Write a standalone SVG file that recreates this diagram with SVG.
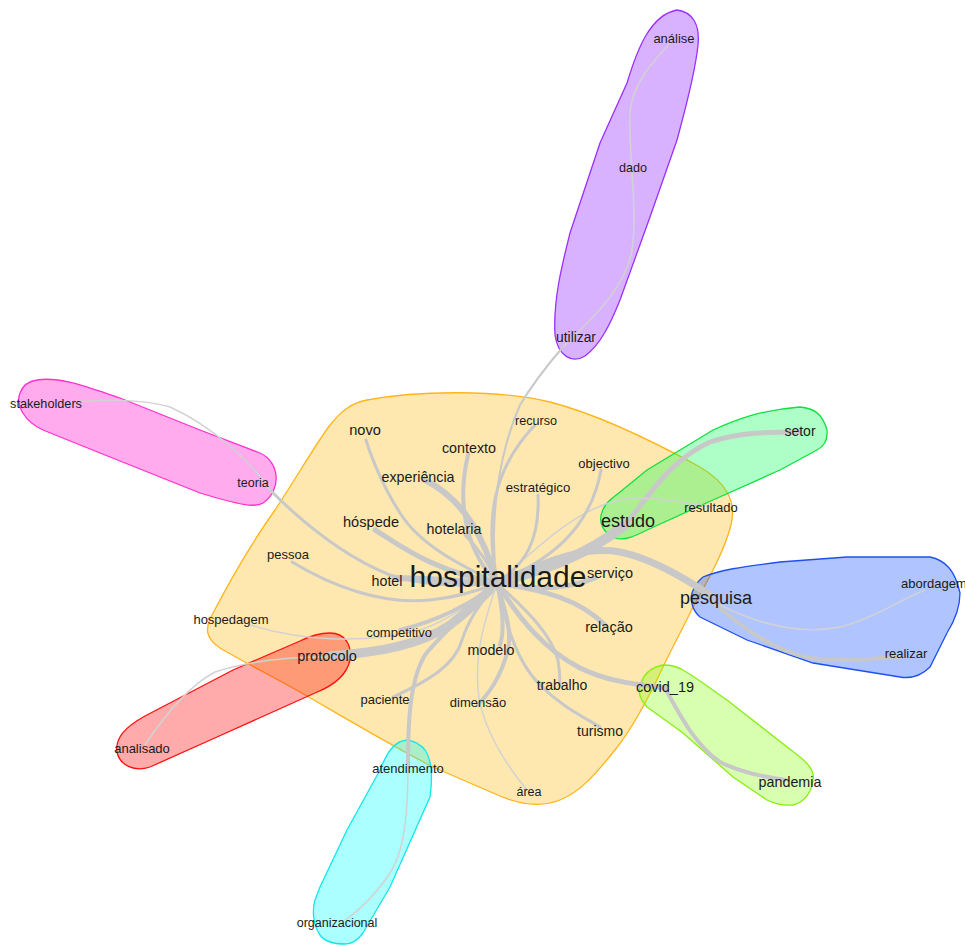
<svg xmlns="http://www.w3.org/2000/svg" width="965" height="946" viewBox="0 0 965 946">
<style>
text{font-family:"Liberation Sans",Arial,sans-serif;fill:#1a1a1a;text-anchor:middle}
.blob{stroke-width:1.3}
.e{fill:none;stroke:#c8c8c8;stroke-linecap:round}
.t{stroke:#d2d2d2;stroke-width:1.5}
</style>
<rect width="965" height="946" fill="#ffffff"/>
<g id="clusters">
<path id="c-orange" class="blob" fill="#fee8b0" stroke="#ffb51a" d="M367,400 C420,390 500,390 550,402 C600,415 660,445 700,467 C725,482 737,500 731,525 C724,552 708,580 693,607 C683,628 672,648 663,667 C650,695 635,725 615,750 C595,775 580,792 560,800 C545,806 525,808 493,793 L433,767 C390,745 340,715 300,692 C270,675 240,660 220,648 C205,638 205,628 212,615 C225,590 250,545 275,510 C295,480 315,445 330,425 C342,410 352,403 367,400 Z"/>
<path id="c-purple" class="blob" fill="rgb(128,0,255)" fill-opacity="0.3" stroke="#9a30ff" d="M677,10 C693,12 700,25 698,45 C695,75 685,110 677,140 L650,217 L620,300 C610,325 600,345 585,356 C572,364 558,356 555,335 C553,300 562,265 570,233 L600,143 L627,83 C637,50 650,15 677,10 Z"/>
<path id="c-pink" class="blob" fill="rgb(255,0,200)" fill-opacity="0.33" stroke="#ff30cc" d="M37,380 C60,376 90,388 120,398 L200,430 L260,453 C280,462 282,490 263,503 C255,508 240,505 200,493 L100,453 L43,430 C25,422 15,405 20,393 C23,385 30,381 37,380 Z"/>
<path id="c-green" class="blob" fill="rgb(0,255,80)" fill-opacity="0.32" stroke="#10e040" d="M800,407 C812,408 822,412 827,430 C828,440 825,446 817,450 L780,470 L713,500 L647,530 C635,536 625,541 615,538 C603,533 598,522 602,512 C605,503 610,500 620,492 L647,470 L713,430 C735,420 760,410 800,407 Z"/>
<path id="c-blue" class="blob" fill="rgb(0,64,255)" fill-opacity="0.31" stroke="#1e50f0" d="M703,577 C720,570 740,567 780,562 L847,557 L930,557 C945,560 955,570 960,593 C960,610 952,625 947,633 L930,667 C922,675 912,679 900,677 L813,663 L747,640 L700,617 C692,610 690,600 692,593 C694,587 698,581 703,577 Z"/>
<path id="c-lime" class="blob" fill="rgb(128,255,0)" fill-opacity="0.31" stroke="#88ee11" d="M663,665 C672,665 678,667 683,670 C700,680 712,690 727,700 L800,757 C810,765 815,772 813,780 C812,790 806,802 793,805 C782,806 775,804 767,800 L733,777 L683,733 L647,707 C640,700 638,692 640,687 C642,677 648,668 663,665 Z"/>
<path id="c-red" class="blob" fill="rgb(255,0,0)" fill-opacity="0.33" stroke="#ff1010" d="M330,633 C345,633 352,645 350,660 C347,675 335,685 315,693 L217,737 L150,767 C135,772 120,766 117,752 C115,738 125,727 145,716 L233,670 L300,641 C310,636 320,633 330,633 Z"/>
<path id="c-cyan" class="blob" fill="rgb(0,255,255)" fill-opacity="0.33" stroke="#10e8e8" d="M407,740 C415,741 420,744 425,750 C432,760 433,775 430,797 L390,887 L363,933 C358,940 352,944 345,944 C333,944 325,942 320,935 C313,925 312,910 315,900 L320,887 L347,830 L380,770 C386,755 393,741 407,740 Z"/>
</g>
<g id="connectors">
<path class="e" stroke-width="3" d="M270,490 C300,520 340,555 390,575 C430,588 470,586 497,583"/>
<path class="e t" d="M270,490 C250,460 210,425 170,407 C140,398 100,400 70,402"/>
<path class="e" stroke-width="5" d="M375,530 C400,545 430,570 497,583"/>
<path class="e" stroke-width="6" d="M395,578 C430,578 470,583 497,583"/>
<path class="e" stroke-width="3" d="M292,562 C330,585 380,605 430,600 C460,597 480,590 497,583"/>
<path class="e t" d="M250,625 C300,640 360,645 420,630 C450,620 475,600 497,583"/>
<path class="e" stroke-width="9" d="M330,656 C380,652 420,645 450,625 C470,610 485,595 497,583"/>
<path class="e" stroke-width="4" d="M400,630 C440,620 470,605 497,583"/>
<path class="e t" d="M330,657 C290,657 250,660 215,672 C190,685 165,715 145,745"/>
<path class="e" stroke-width="3" d="M393,697 C430,680 455,665 462,640 C470,615 485,598 497,583"/>
<path class="e" stroke-width="4" d="M497,583 C470,610 445,630 425,655 C410,680 408,720 408,765"/>
<path class="e t" d="M408,765 C408,810 405,850 390,873 C375,895 360,910 345,920"/>
<path class="e t" d="M497,583 C485,620 475,650 478,690 C482,730 510,770 527,790"/>
<path class="e" stroke-width="4" d="M497,583 C505,610 512,630 508,650 C500,680 487,695 478,705"/>
<path class="e" stroke-width="4" d="M497,583 C503,610 505,630 500,645"/>
<path class="e" stroke-width="3" d="M497,583 C520,605 550,630 558,660 C560,672 560,680 560,685"/>
<path class="e" stroke-width="3" d="M497,583 C505,620 515,660 540,685 C560,705 580,715 600,727"/>
<path class="e" stroke-width="5" d="M497,583 C520,620 545,650 580,668 C605,680 625,683 665,688"/>
<path class="e" stroke-width="4" d="M665,688 C680,715 695,745 720,762 C740,772 760,776 785,780"/>
<path class="e" stroke-width="5" d="M497,583 C545,590 580,600 605,625"/>
<path class="e" stroke-width="5" d="M497,583 C540,592 570,588 595,578"/>
<path class="e" stroke-width="7" d="M497,583 C540,565 580,545 620,552 C650,558 680,575 710,595"/>
<path class="e" stroke-width="4" d="M710,600 C740,625 770,650 810,658 C840,662 870,659 900,657"/>
<path class="e t" d="M720,605 C760,625 800,635 840,627 C870,620 900,600 925,590"/>
<path class="e" stroke-width="10" d="M497,583 C540,570 580,560 625,525"/>
<path class="e" stroke-width="5" d="M625,525 C650,495 670,460 710,442 C740,432 770,432 800,432"/>
<path class="e t" d="M497,583 C540,545 575,510 620,500 C650,495 680,502 711,507"/>
<path class="e" stroke-width="3" d="M497,583 C550,560 590,530 601,470"/>
<path class="e" stroke-width="3" d="M497,583 C525,565 540,540 538,495"/>
<path class="e" stroke-width="3" d="M497,583 C485,520 492,470 535,425"/>
<path class="e" stroke-width="2" d="M497,583 C488,520 500,450 520,405 C535,380 550,362 563,347"/>
<path class="e t" d="M563,347 C590,320 625,290 632,250 C638,210 628,150 630,113 C632,85 650,65 670,43"/>
<path class="e" stroke-width="4" d="M497,583 C470,555 455,510 468,455"/>
<path class="e" stroke-width="6" d="M497,583 C485,540 465,500 425,480"/>
<path class="e" stroke-width="3" d="M497,583 C490,565 478,548 465,535"/>
<path class="e" stroke-width="3" d="M497,583 C460,565 420,545 400,513 C385,490 372,460 366,440"/>
</g>
<g id="n-hospitalidade"><text x="498" y="587" font-size="30">hospitalidade</text></g>
<g id="n-estudo"><text x="628" y="527" font-size="18">estudo</text></g>
<g id="n-pesquisa"><text x="716" y="604" font-size="18">pesquisa</text></g>
<g id="n-servico"><text x="610" y="578" font-size="14.5">serviço</text></g>
<g id="n-relacao"><text x="609" y="632" font-size="14.5">relação</text></g>
<g id="n-objectivo"><text x="604" y="468" font-size="13">objectivo</text></g>
<g id="n-setor"><text x="800" y="436" font-size="14">setor</text></g>
<g id="n-resultado"><text x="711" y="512" font-size="13">resultado</text></g>
<g id="n-abordagem"><text x="901" y="588" font-size="13" style="text-anchor:start">abordagem</text></g>
<g id="n-realizar"><text x="906" y="658" font-size="13">realizar</text></g>
<g id="n-covid"><text x="665" y="692" font-size="14.5">covid_19</text></g>
<g id="n-pandemia"><text x="790" y="787" font-size="14.3">pandemia</text></g>
<g id="n-turismo"><text x="600" y="736" font-size="14">turismo</text></g>
<g id="n-trabalho"><text x="562" y="690" font-size="14">trabalho</text></g>
<g id="n-modelo"><text x="491" y="655" font-size="14.3">modelo</text></g>
<g id="n-dimensao"><text x="478" y="707" font-size="13">dimensão</text></g>
<g id="n-paciente"><text x="385" y="704" font-size="13">paciente</text></g>
<g id="n-competitivo"><text x="399" y="637" font-size="13">competitivo</text></g>
<g id="n-protocolo"><text x="327" y="661" font-size="14.5">protocolo</text></g>
<g id="n-atendimento"><text x="408" y="773" font-size="13">atendimento</text></g>
<g id="n-area"><text x="529" y="796" font-size="12.5">área</text></g>
<g id="n-organizacional"><text x="337" y="927" font-size="12.5">organizacional</text></g>
<g id="n-analisado"><text x="142" y="753" font-size="13">analisado</text></g>
<g id="n-hospedagem"><text x="231" y="624" font-size="13">hospedagem</text></g>
<g id="n-pessoa"><text x="288" y="559" font-size="13">pessoa</text></g>
<g id="n-hotel"><text x="387" y="586" font-size="14.3">hotel</text></g>
<g id="n-hospede"><text x="371" y="527" font-size="14.6">hóspede</text></g>
<g id="n-hotelaria"><text x="454" y="534" font-size="14.3">hotelaria</text></g>
<g id="n-experiencia"><text x="418" y="482" font-size="14.3">experiência</text></g>
<g id="n-contexto"><text x="469" y="453" font-size="14.3">contexto</text></g>
<g id="n-novo"><text x="365" y="435" font-size="14.6">novo</text></g>
<g id="n-recurso"><text x="536" y="425" font-size="12.6">recurso</text></g>
<g id="n-estrategico"><text x="538" y="492" font-size="13.2">estratégico</text></g>
<g id="n-stakeholders"><text x="46" y="408" font-size="12.7">stakeholders</text></g>
<g id="n-teoria"><text x="253" y="487" font-size="12.5">teoria</text></g>
<g id="n-analise"><text x="674" y="43" font-size="13">análise</text></g>
<g id="n-dado"><text x="633" y="172" font-size="12.6">dado</text></g>
<g id="n-utilizar"><text x="576" y="342" font-size="13.8">utilizar</text></g>
</svg>
